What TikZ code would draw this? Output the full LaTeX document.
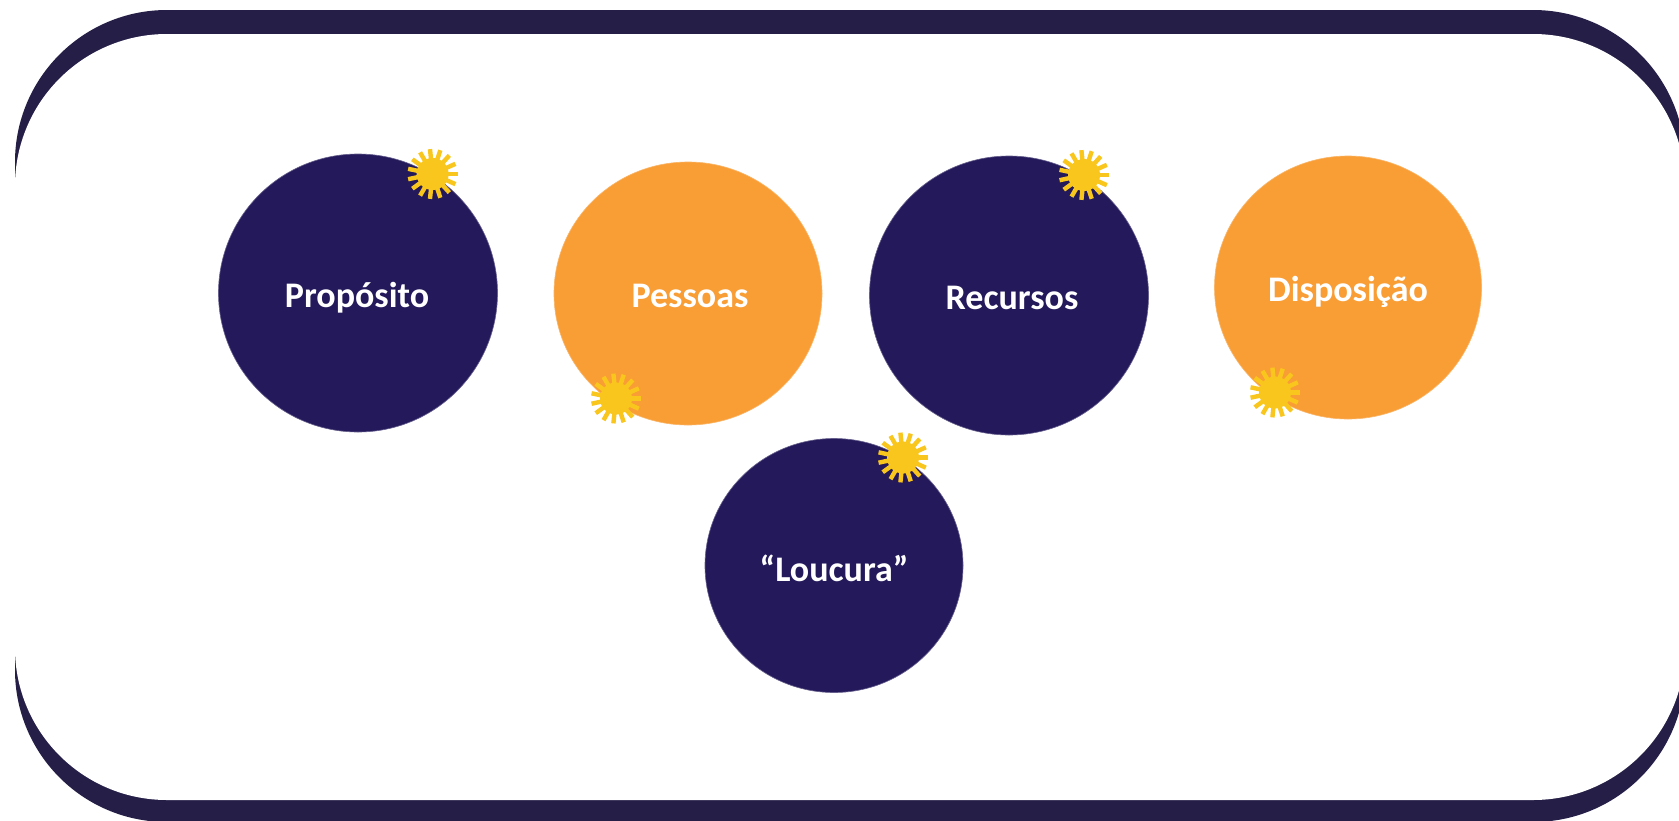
\documentclass[tikz,border=0pt]{standalone}
\usepackage{fontspec}
\setmainfont{Carlito}
\usetikzlibrary{shapes.geometric}
\definecolor{framenavy}{HTML}{251F47}
\definecolor{circnavy}{HTML}{24195B}
\definecolor{circorange}{HTML}{F99D35}
\definecolor{sunyellow}{HTML}{F9C61D}
\tikzset{
  x=1pt,y=-1pt,
  bubble/.style={ellipse,inner sep=0pt,outer sep=0pt,text=white,font=\fontsize{36}{40}\selectfont\bfseries},
  navybubble/.style={bubble,fill=circnavy,draw=circnavy!70!white,line width=0.6pt},
  orangebubble/.style={bubble,fill=circorange,draw=circorange!75!white,line width=0.6pt},
  sunmark/.pic={
    \fill[sunyellow] (0,0) circle[radius=16];
    \foreach \a in {0,24,...,336}
      \draw[sunyellow,line width=4.4pt] (0,0) -- (\a:25);
  }
}
\begin{document}
\begin{tikzpicture}
\useasboundingbox (0,0) rectangle (1679,820);
\fill[white] (0,0) rectangle (1679,820);
\begin{scope}
\clip (0,0) rectangle (1679,820);
\fill[framenavy,rounded corners=152pt] (15,10) rectangle (1685,822);
\fill[white,rounded corners=152pt] (15,34) rectangle (1685,800);
\end{scope}
\node[navybubble,minimum width=279pt,minimum height=278pt] (proposito) at (358,293) {};
\node[orangebubble,minimum width=268pt,minimum height=263pt] (pessoas) at (688,293.5) {};
\node[navybubble,minimum width=279pt,minimum height=279pt] (recursos) at (1009,295.5) {};
\node[orangebubble,minimum width=267pt,minimum height=263pt] (disposicao) at (1348,287.5) {};
\node[navybubble,minimum width=258pt,minimum height=254pt] (loucura) at (834,565.5) {};
\node[bubble] (tproposito) at (357,298) {Propósito};
\node[bubble] (tpessoas) at (690,296) {Pessoas};
\node[bubble] (trecursos) at (1012,297.5) {Recursos};
\node[bubble] (tdisposicao) at (1348,292) {Disposição};
\node[bubble] (tloucura) at (834,568) {“Loucura”};
\pic at (432.6,174) {sunmark};
\pic at (616,398.5) {sunmark};
\pic at (1084,175) {sunmark};
\pic at (1275,392.5) {sunmark};
\pic at (903,457.5) {sunmark};
\end{tikzpicture}
\end{document}
